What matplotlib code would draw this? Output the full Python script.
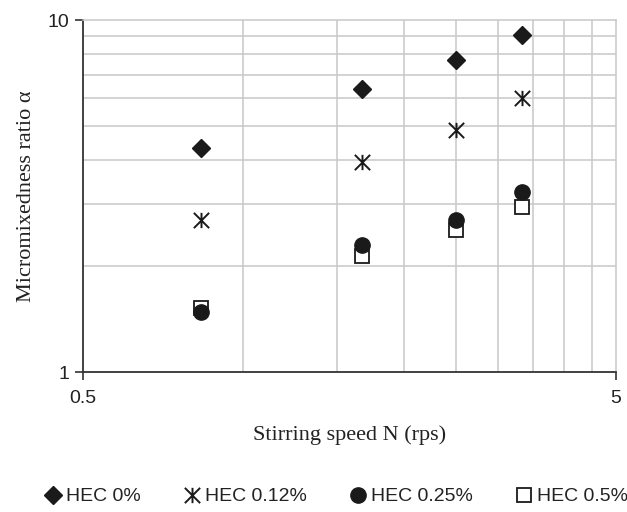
import matplotlib
matplotlib.use("Agg")
import matplotlib.pyplot as plt
from matplotlib.path import Path
from matplotlib.ticker import FixedLocator, NullFormatter, NullLocator

# stirring speed (rps) and micromixedness ratio for each HEC concentration
speed = [0.833, 1.667, 2.5, 3.333]
hec_0 = [4.33, 6.36, 7.70, 9.07]
hec_012 = [2.71, 3.96, 4.87, 5.99]
hec_025 = [1.48, 2.30, 2.71, 3.24]
hec_05 = [1.52, 2.14, 2.53, 2.94]

x_grid = [1, 1.5, 2, 2.5, 3, 3.5, 4, 4.5]
y_grid = [2, 3, 4, 5, 6, 7, 8, 9]

# vertical bar plus an X, like the original's asterisk
star = Path([(0, -1), (0, 1), (-1, -1), (1, 1), (-1, 1), (1, -1)],
            [Path.MOVETO, Path.LINETO, Path.MOVETO, Path.LINETO, Path.MOVETO, Path.LINETO])

fig = plt.figure(figsize=(6.27, 5.12), dpi=100)
ax = fig.add_axes([0.1324, 0.2734, 0.8501, 0.6875])

ax.set_xscale("log")
ax.set_yscale("log")
ax.set_xlim(0.5, 5)
ax.set_ylim(1, 10)

gridc = "#c8c8c8"
for gx in x_grid:
    ax.axvline(gx, color=gridc, lw=1.1, zorder=0)
for gy in y_grid:
    ax.axhline(gy, color=gridc, lw=1.1, zorder=0)

ink = "#1a1a1a"
ax.plot(speed, hec_0, ls="none", marker="D", ms=9, color=ink, label="HEC 0%")
ax.plot(speed, hec_012, ls="none", marker=star, ms=11, mew=1.4, color=ink,
        label="HEC 0.12%")
ax.plot(speed, hec_05, ls="none", marker="s", ms=10, mfc="white", mec=ink,
        mew=1.3, label="HEC 0.5%")
ax.plot(speed, hec_025, ls="none", marker="o", ms=11, color=ink, label="HEC 0.25%")

ax.xaxis.set_major_locator(FixedLocator([0.5, 5]))
ax.yaxis.set_major_locator(FixedLocator([1, 10]))
ax.xaxis.set_minor_locator(NullLocator())
ax.yaxis.set_minor_locator(NullLocator())
ax.xaxis.set_minor_formatter(NullFormatter())
ax.yaxis.set_minor_formatter(NullFormatter())
ax.set_xticklabels(["0.5", "5"])
ax.set_yticklabels(["1", "10"])
ax.tick_params(axis="both", which="major", direction="out", length=6, width=1.2,
               color="#333333", labelsize=14, pad=4, labelcolor="#222222")
ax.tick_params(axis="x", pad=7)
for lab in ax.get_xticklabels() + ax.get_yticklabels():
    lab.set_fontfamily("Liberation Sans")

for s in ["left", "bottom"]:
    ax.spines[s].set_color("#333333")
    ax.spines[s].set_linewidth(1.3)
for s in ["top", "right"]:
    ax.spines[s].set_color(gridc)
    ax.spines[s].set_linewidth(1.1)

ax.set_xlabel("Stirring speed N (rps)", fontfamily="Liberation Serif", fontsize=16,
              labelpad=13, color="#222222")
ax.set_ylabel("Micromixedness ratio \u03b1", fontfamily="Liberation Serif", fontsize=16,
              labelpad=8, color="#222222")

handles, labels = ax.get_legend_handles_labels()
order = [0, 1, 3, 2]
leg = fig.legend([handles[i] for i in order], [labels[i] for i in order],
                 loc="center", bbox_to_anchor=(0.536, 0.03), ncol=4, frameon=False,
                 handletextpad=0.2, columnspacing=2.2, handlelength=0.9,
                 prop={"family": "Liberation Sans", "size": 14})
for t in leg.get_texts():
    t.set_color("#222222")

fig.savefig("out.png", dpi=100)
